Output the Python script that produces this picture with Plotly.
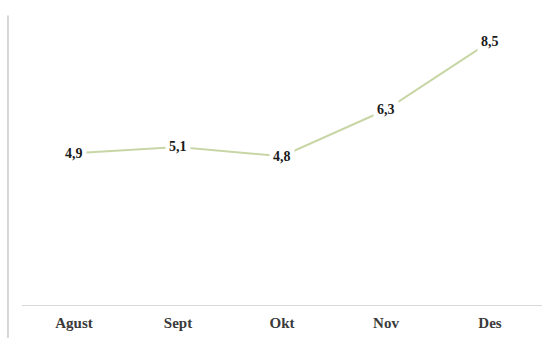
import plotly.graph_objects as go

months = ["Agust", "Sept", "Okt", "Nov", "Des"]
values = [4.9, 5.1, 4.8, 6.3, 8.5]
labels = ["4,9", "5,1", "4,8", "6,3", "8,5"]

fig = go.Figure()
fig.add_trace(go.Scatter(
    x=months, y=values, mode="lines",
    line=dict(color="#c8d6a6", width=2),
    hoverinfo="skip", showlegend=False,
))

for m, v, t in zip(months, values, labels):
    fig.add_annotation(
        x=m, y=v, text=t, showarrow=False,
        font=dict(family="Liberation Serif", size=14, color="#1a1a1a", weight="bold"),
        bgcolor="white", borderpad=3,
    )

fig.add_shape(type="line", xref="paper", yref="paper",
              x0=-0.027, x1=-0.027, y0=-0.12, y1=0.965,
              line=dict(color="#d6d6d6", width=2))

fig.update_xaxes(
    showgrid=False, showline=True, linecolor="#d9d9d9", linewidth=1,
    ticks="", zeroline=False, ticklabelstandoff=4,
    tickfont=dict(family="Liberation Serif", size=15, color="#3a3a3a", weight="bold"),
    range=[-0.5, 4.5],
)
fig.update_yaxes(
    visible=False, range=[0, 9.68], showgrid=False, zeroline=False,
)
fig.update_layout(
    width=558, height=338,
    margin=dict(l=22, r=16, t=5, b=33),
    paper_bgcolor="white", plot_bgcolor="white",
    font=dict(family="Liberation Serif", size=14, color="#1a1a1a"),
)

fig.write_html("out.html")
